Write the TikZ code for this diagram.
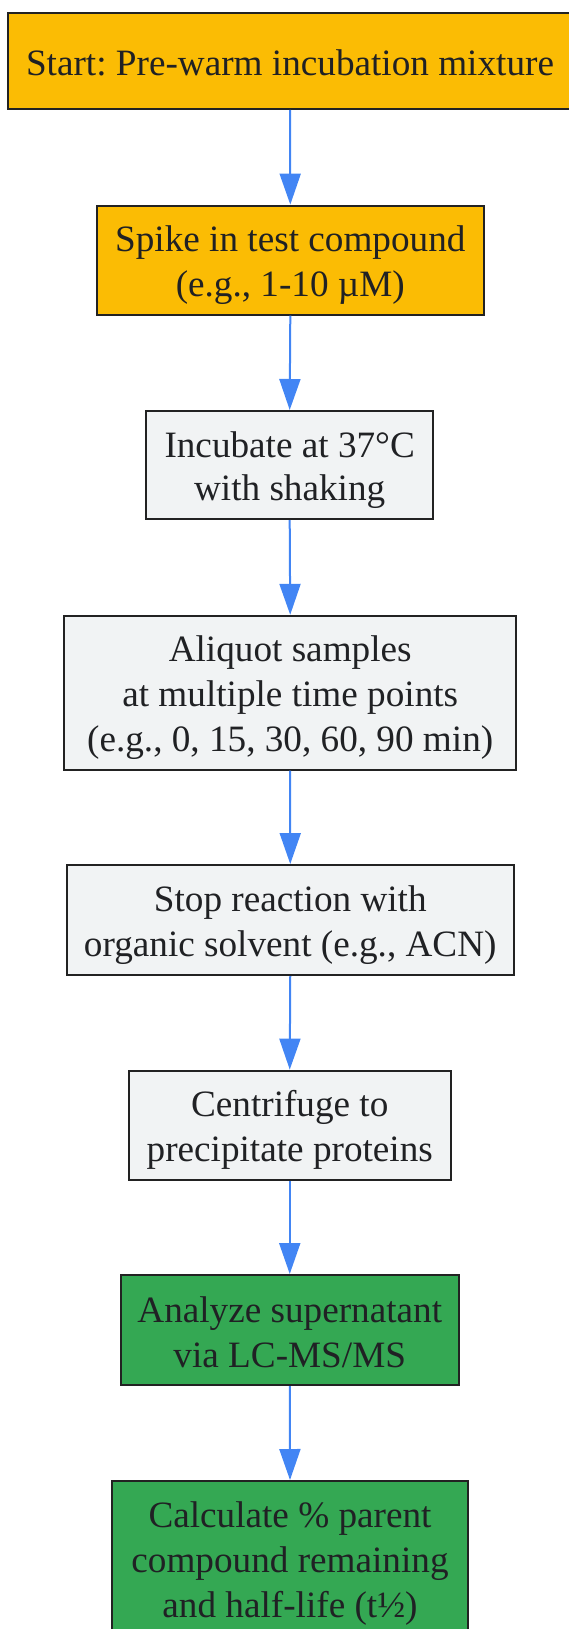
\documentclass[tikz,border=0pt]{standalone}
\usepackage{fontspec}
\setmainfont{Liberation Serif}
\usetikzlibrary{arrows.meta}
\frenchspacing
\definecolor{cyellow}{HTML}{FBBC04}
\definecolor{cgray}{HTML}{F1F3F4}
\definecolor{cgreen}{HTML}{34A853}
\definecolor{cblue}{HTML}{4285F4}
\definecolor{ctext}{HTML}{202124}
\definecolor{cborder}{HTML}{222222}
\newcommand{\lnstrut}{\rule[-6.6pt]{0pt}{42.6pt}}
\tikzset{
  box/.style={draw=cborder, line width=2pt, rectangle, align=center, inner sep=0pt,
    text=ctext, font=\fontsize{37.2}{42.6}\selectfont},
  ybox/.style={box, fill=cyellow},
  gbox/.style={box, fill=cgray},
  grbox/.style={box, fill=cgreen},
  arr/.style={draw=cblue, line width=2pt, -{Triangle[width=21pt,length=31pt]}}
}
\begin{document}
\begin{tikzpicture}[x=1pt,y=1pt]
\useasboundingbox (0,0) rectangle (568,-1629);
\node[ybox, minimum width=563.4pt, minimum height=95.5pt] (b1) at (290,-61.25) {\lnstrut Start: Pre-warm incubation mixture};
\node[ybox, minimum width=387.4pt, minimum height=109pt] (b2) at (290.3,-260.1) {\lnstrut Spike in test compound\\\lnstrut (e.g., 1-10 µM)};
\node[gbox, minimum width=286.6pt, minimum height=108pt] (b3) at (289.7,-465) {\lnstrut Incubate at 37°C\\\lnstrut with shaking};
\node[gbox, minimum width=451.6pt, minimum height=153.7pt] (b4) at (290.2,-692.65) {\lnstrut Aliquot samples\\\lnstrut at multiple time points\\\lnstrut (e.g., 0, 15, 30, 60, 90 min)};
\node[gbox, minimum width=447.5pt, minimum height=110pt] (b5) at (290.25,-920) {\lnstrut Stop reaction with\\\lnstrut organic solvent (e.g., ACN)};
\node[gbox, minimum width=321.9pt, minimum height=109pt] (b6) at (289.75,-1125.1) {\lnstrut Centrifuge to\\\lnstrut precipitate proteins};
\node[grbox, minimum width=338.5pt, minimum height=110pt] (b7) at (289.75,-1330) {\lnstrut Analyze supernatant\\\lnstrut via LC-MS/MS};
\node[grbox, minimum width=356pt, minimum height=154pt] (b8) at (290,-1558) {\lnstrut Calculate \% parent\\\lnstrut compound remaining\\\lnstrut and half-life (t½)};
\draw[arr] (b1.south) -- (b2.north);
\draw[arr] (b2.south) -- (b3.north);
\draw[arr] (b3.south) -- (b4.north);
\draw[arr] (b4.south) -- (b5.north);
\draw[arr] (b5.south) -- (b6.north);
\draw[arr] (b6.south) -- (b7.north);
\draw[arr] (b7.south) -- (b8.north);
\end{tikzpicture}
\end{document}
